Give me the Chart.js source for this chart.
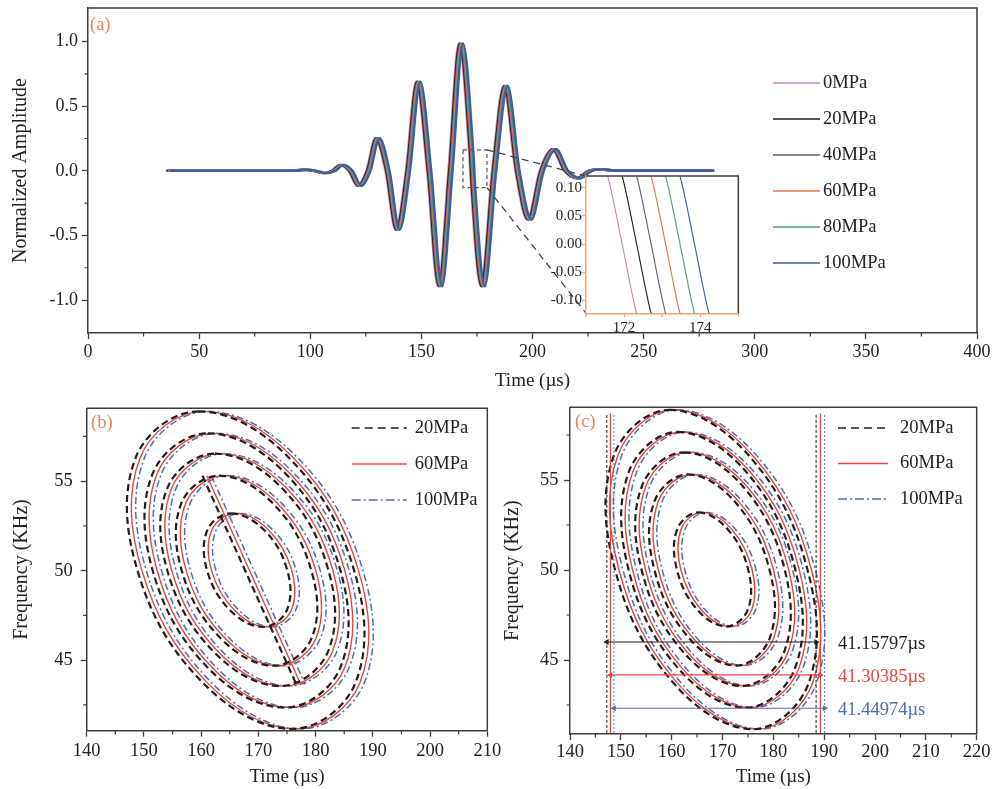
<!DOCTYPE html>
<html>
<head>
<meta charset="utf-8">
<title>Waveforms and time-frequency contours</title>
<script src="https://cdn.jsdelivr.net/npm/chart.js@4.4.1/dist/chart.umd.min.js"></script>
<style>
  html, body { margin: 0; padding: 0; background: #fff; }
  #wrap { position: relative; width: 994px; height: 789px; overflow: hidden; background: #fff; }
  canvas { position: absolute; }
</style>
</head>
<body>
<div id="wrap">
  <canvas id="waveChart" width="994" height="395" style="left:0px;top:0px"></canvas>
  <canvas id="zoomChart" width="215" height="165" style="left:530px;top:172px"></canvas>
  <canvas id="contourB" width="520" height="394" style="left:0px;top:395px"></canvas>
  <canvas id="contourC" width="497" height="394" style="left:497px;top:395px"></canvas>
</div>
<script>
// (a) normalized waveforms at each confining pressure
const pressureA = ['0MPa', '20MPa', '40MPa', '60MPa', '80MPa', '100MPa'];
const waveShift = [0, 0.38, 0.76, 1.14, 1.52, 1.90];   // arrival delay vs 0MPa (µs)
const waveTime = [35, 90, 96.6, 101.1, 105.6, 109.4, 113.15, 117.15, 121.15, 125.2,
  129.25, 133.8, 138.35, 143.0, 147.65, 152.55, 157.45, 162.15, 166.85, 171.57,
  171.95, 172.33, 176.65, 181.8, 186.95, 192.3, 197.65, 203.2, 208.75, 214.2,
  219.65, 224.9, 230.15, 236, 280];
const waveAmp = [0, 0, 0.008, 0, -0.018, 0, 0.046, 0, -0.116, 0,
  0.252, 0, -0.456, 0, 0.69, 0, -0.893, 0, 0.986, 0.121,
  0, -0.123, -0.893, 0, 0.656, 0, -0.378, 0, 0.167, 0,
  -0.057, 0, 0.012, 0, 0];
const ticksAx = [0, 50, 100, 150, 200, 250, 300, 350, 400];
const minorAx = [25, 75, 125, 175, 225, 275, 325, 375];
const ticksAy = [-1, -0.5, 0, 0.5, 1];
const minorAy = [-0.75, -0.25, 0.25, 0.75];
const zoomBoxTime = [168.7, 179.5];
const zoomBoxAmp = [-0.13, 0.162];
const ticksZx = [172, 174];
const minorZx = [171, 173, 175];
const ticksZy = [-0.1, -0.05, 0, 0.05, 0.1];

// (b), (c) contour rings of the 60MPa spectrogram, 8 points per ring
const pressureB = ['20MPa', '60MPa', '100MPa'];
const contourShift = [-0.77, 0, 0.77];
const contourTime = [
  [160.30, 176.10, 187.48, 187.77, 176.80, 161.00, 149.62, 149.33],
  [161.92, 175.50, 185.10, 185.09, 175.48, 161.90, 152.30, 152.31],
  [163.17, 174.80, 182.98, 182.91, 174.63, 163.00, 154.82, 154.89],
  [163.90, 173.31, 180.03, 180.10, 173.50, 164.09, 157.38, 157.30],
  [166.00, 171.78, 175.81, 175.74, 171.60, 165.82, 161.79, 161.86]
];
const contourFreq = [
  [58.90, 56.31, 50.03, 43.76, 41.16, 43.76, 50.03, 56.31],
  [57.67, 55.43, 50.01, 44.59, 42.35, 44.59, 50.01, 55.43],
  [56.54, 54.64, 50.05, 45.46, 43.56, 45.46, 50.05, 54.64],
  [55.31, 53.76, 50.00, 46.25, 44.69, 46.25, 50.00, 53.76],
  [53.20, 52.27, 50.03, 47.79, 46.86, 47.79, 50.03, 52.27]
];
const ridgeTime = [161.0, 177.4];
const ridgeFreq = [55.3, 43.65];
const edgeLeft = [147.25, 147.95, 148.65];
const spanWidth = [41.15797, 41.30385, 41.44974];
const spanFreq = [46.0, 44.17, 42.32];
const edgeFreq = [40.95, 58.7];
const ticksBx = [140, 150, 160, 170, 180, 190, 200, 210];
const minorBx = [145, 155, 165, 175, 185, 195, 205];
const ticksCx = [140, 150, 160, 170, 180, 190, 200, 210, 220];
const minorCx = [145, 155, 165, 175, 185, 195, 205, 215];
const ticksF = [45, 50, 55];
const minorF = [42.5, 47.5, 52.5, 57.5];

// styles
const SERIF = '"Liberation Serif", "Times New Roman", serif';
const colorA = ['#c587b6', '#1e1e1e', '#59627f', '#ec6f48', '#4b9c84', '#3c5ca6'];
const colorB = ['#1e1e1e', '#e8463c', '#4a6db2'];
const lineB = [
  { width: 2.2, dash: [7, 4] },
  { width: 1.4, dash: [] },
  { width: 1.5, dash: [7, 3, 2, 3] }
];
const edgeStyle = [
  { width: 1, dash: [3, 2] },
  { width: 1.2, dash: [] },
  { width: 1, dash: [2, 2] }
];
const FRAME = '#3d3d3d';
const TAG = '#e5835e';

Chart.defaults.font.family = SERIF;
Chart.defaults.color = '#222';

// join the last point of a closed contour back to its first one
Chart.register({
  id: 'closeLoop',
  afterDatasetUpdate(chart, args) {
    if (chart.data.datasets[args.index].closed && args.meta.dataset) {
      args.meta.dataset._loop = true;
      args.meta.dataset._fullLoop = true;
    }
  }
});

function axis(o) {
  return {
    type: 'linear', position: o.pos, min: o.min, max: o.max,
    afterBuildTicks: s => { s.ticks = o.ticks.map(v => ({ value: v })); },
    afterFit: s => {
      if (o.pos === 'left') s.width = o.size; else s.height = o.size;
      s.paddingLeft = s.paddingRight = s.paddingTop = s.paddingBottom = 0;
    },
    grid: { drawOnChartArea: false, drawTicks: true, tickLength: o.tickLen || 6, tickColor: o.line || FRAME, tickWidth: 1.3 },
    border: { display: true, color: o.line || FRAME, width: 1.5 },
    ticks: { autoSkip: false, maxRotation: 0, padding: o.pad, color: '#222',
             font: { size: o.fs || 18 }, callback: o.fmt || (v => String(v)) },
    title: o.title
      ? { display: true, text: o.title, color: '#222', font: { size: o.tfs }, padding: o.tpad }
      : { display: false }
  };
}

function drawFrame(chart, minorX, minorY, color) {
  const { ctx, chartArea: a, scales: { x, y } } = chart;
  ctx.save();
  ctx.strokeStyle = FRAME;
  ctx.lineWidth = 1.5;
  ctx.beginPath();
  ctx.moveTo(a.left, a.top); ctx.lineTo(a.right, a.top); ctx.lineTo(a.right, a.bottom);
  ctx.stroke();
  ctx.strokeStyle = color || FRAME;
  ctx.lineWidth = 1.2;
  ctx.beginPath();
  minorX.forEach(v => { const px = x.getPixelForValue(v); ctx.moveTo(px, a.bottom); ctx.lineTo(px, a.bottom + 3.5); });
  minorY.forEach(v => { const py = y.getPixelForValue(v); ctx.moveTo(a.left, py); ctx.lineTo(a.left - 3.5, py); });
  ctx.stroke();
  ctx.restore();
}

function drawKey(ctx, rows, x, y0, step, len, gap) {
  ctx.save();
  rows.forEach((r, i) => {
    const y = y0 + i * step;
    ctx.strokeStyle = r.color; ctx.lineWidth = r.width; ctx.setLineDash(r.dash || []);
    ctx.beginPath(); ctx.moveTo(x, y); ctx.lineTo(x + len, y); ctx.stroke();
    ctx.setLineDash([]);
    ctx.fillStyle = '#222'; ctx.font = '18.5px ' + SERIF; ctx.textBaseline = 'middle';
    ctx.fillText(r.label, x + len + gap, y);
  });
  ctx.restore();
}

function drawTag(ctx, text, x, y) {
  ctx.save();
  ctx.fillStyle = TAG; ctx.font = '18.5px ' + SERIF; ctx.textBaseline = 'middle';
  ctx.fillText(text, x, y);
  ctx.restore();
}

const waveTrace = i => waveTime.map((t, j) => ({ x: t + waveShift[i], y: waveAmp[j] }));

// inset corners on the page, used for the zoom guide lines
const INSET = { left: 586, top: 176, bottom: 313.3 };

new Chart(document.getElementById('waveChart'), {
  type: 'line',
  data: {
    datasets: pressureA.map((p, i) => ({
      label: p, data: waveTrace(i), borderColor: colorA[i], borderWidth: 2.4,
      pointRadius: 0, cubicInterpolationMode: 'monotone', order: pressureA.length - i
    }))
  },
  options: {
    responsive: false, animation: false, events: [],
    layout: { padding: { left: 0, right: 17, top: 8, bottom: 0 } },
    plugins: { legend: { display: false }, tooltip: { enabled: false } },
    scales: {
      x: axis({ pos: 'bottom', min: 0, max: 400, ticks: ticksAx, size: 62, pad: 2.3,
                title: 'Time (µs)', tfs: 19, tpad: { top: 0, bottom: 2.6 } }),
      y: axis({ pos: 'left', min: -1.255, max: 1.26, ticks: ticksAy, size: 88, pad: 4,
                fmt: v => v.toFixed(1), title: 'Normalized Amplitude', tfs: 20, tpad: { top: 9, bottom: 0 } })
    }
  },
  plugins: [{
    id: 'waveDecor',
    afterDraw(chart) {
      const { ctx, scales: { x, y } } = chart;
      drawFrame(chart, minorAx, minorAy);
      drawTag(ctx, '(a)', 90, 25);
      drawKey(ctx, pressureA.map((p, i) => ({ label: p, color: colorA[i], width: 1.5 })), 773, 83, 36, 47, 3);

      // dashed box around the zero crossing and guides to the inset
      const x0 = x.getPixelForValue(zoomBoxTime[0]), x1 = x.getPixelForValue(zoomBoxTime[1]);
      const y0 = y.getPixelForValue(zoomBoxAmp[1]), y1 = y.getPixelForValue(zoomBoxAmp[0]);
      ctx.save();
      ctx.strokeStyle = '#555'; ctx.lineWidth = 1.2; ctx.setLineDash([4, 3]);
      ctx.strokeRect(x0, y0, x1 - x0, y1 - y0);
      ctx.strokeStyle = '#444'; ctx.lineWidth = 1.3; ctx.setLineDash([7, 5]);
      ctx.beginPath();
      ctx.moveTo(x1, y0); ctx.lineTo(INSET.left, INSET.top);
      ctx.moveTo(x1, y1); ctx.lineTo(INSET.left, INSET.bottom);
      ctx.stroke();
      ctx.restore();
    }
  }]
});

new Chart(document.getElementById('zoomChart'), {
  type: 'line',
  data: {
    datasets: pressureA.map((p, i) => ({
      label: p, data: waveTrace(i), borderColor: colorA[i], borderWidth: 1.1,
      pointRadius: 0, cubicInterpolationMode: 'monotone'
    }))
  },
  options: {
    responsive: false, animation: false, events: [],
    layout: { padding: { left: 0, right: 6.7, top: 4, bottom: 0 } },
    plugins: { legend: { display: false }, tooltip: { enabled: false } },
    scales: {
      x: axis({ pos: 'bottom', min: 171, max: 175, ticks: ticksZx, size: 23.7, pad: 1.8, fs: 15, tickLen: 4, line: '#f0a472' }),
      y: axis({ pos: 'left', min: -0.123, max: 0.121, ticks: ticksZy, size: 56, pad: 0, fs: 15, tickLen: 4,
                line: '#f0a472', fmt: v => v.toFixed(2) })
    }
  },
  plugins: [{
    id: 'insetDecor',
    beforeDraw(chart) {
      const { ctx, chartArea: a } = chart;
      ctx.save(); ctx.fillStyle = '#fff';
      ctx.fillRect(a.left, a.top, a.right - a.left, a.bottom - a.top);
      ctx.restore();
    },
    afterDraw(chart) { drawFrame(chart, minorZx, [], '#f0a472'); }
  }]
});

function contourSets(withRidge) {
  const sets = [];
  pressureB.forEach((p, s) => {
    if (withRidge) {
      sets.push({
        label: p, data: ridgeTime.map((t, j) => ({ x: t + contourShift[s], y: ridgeFreq[j] })),
        borderColor: colorB[s], borderWidth: lineB[s].width, borderDash: lineB[s].dash, pointRadius: 0
      });
    }
    contourTime.forEach((ring, k) => {
      sets.push({
        label: p, closed: true,
        data: ring.map((t, j) => ({ x: t + contourShift[s], y: contourFreq[k][j] })),
        borderColor: colorB[s], borderWidth: lineB[s].width, borderDash: lineB[s].dash,
        pointRadius: 0, tension: 0.38, spanGaps: true, capBezierPoints: false
      });
    });
  });
  return sets;
}

function spanSets() {
  const sets = [];
  pressureB.forEach((p, s) => {
    const right = edgeLeft[s] + spanWidth[s];
    sets.push({
      label: p, data: [{ x: edgeLeft[s], y: spanFreq[s] }, { x: right, y: spanFreq[s] }],
      borderColor: colorB[s], borderWidth: 1.2, pointStyle: 'triangle', pointRadius: 3.5,
      pointRotation: [270, 90], pointBackgroundColor: colorB[s], pointBorderColor: colorB[s], pointBorderWidth: 0
    });
  });
  pressureB.forEach((p, s) => {
    const right = edgeLeft[s] + spanWidth[s];
    [edgeLeft[s], right].forEach(t => sets.push({
      label: p, data: edgeFreq.map(f => ({ x: t, y: f })),
      borderColor: colorB[s], borderWidth: edgeStyle[s].width, borderDash: edgeStyle[s].dash, pointRadius: 0
    }));
  });
  return sets;
}

const keyRows = pressureB.map((p, s) => ({ label: p, color: colorB[s], width: 1.6, dash: s === 0 ? [8, 5] : s === 2 ? [9, 3, 2, 3] : [] }));

new Chart(document.getElementById('contourB'), {
  type: 'line',
  data: { datasets: contourSets(true) },
  options: {
    responsive: false, animation: false, events: [],
    layout: { padding: { left: 0, right: 32.7, top: 13.3, bottom: 0 } },
    plugins: { legend: { display: false }, tooltip: { enabled: false } },
    scales: {
      x: axis({ pos: 'bottom', min: 140, max: 210, ticks: ticksBx, size: 58.3, pad: 3.5, fs: 18.5,
                title: 'Time (µs)', tfs: 19, tpad: { top: 0, bottom: 0.9 } }),
      y: axis({ pos: 'left', min: 41.06, max: 59.07, ticks: ticksF, size: 86.7, pad: 8, fs: 18.5,
                title: 'Frequency (KHz)', tfs: 20, tpad: { top: 9.7, bottom: 0 } })
    }
  },
  plugins: [{
    id: 'contourDecorB',
    afterDraw(chart) {
      drawFrame(chart, minorBx, minorF);
      drawTag(chart.ctx, '(b)', 91, 28);
      drawKey(chart.ctx, keyRows, 351.7, 33, 36, 55, 8);
    }
  }]
});

new Chart(document.getElementById('contourC'), {
  type: 'line',
  data: { datasets: spanSets().concat(contourSets(false)) },
  options: {
    responsive: false, animation: false, events: [],
    layout: { padding: { left: 0, right: 17.3, top: 12.3, bottom: 0 } },
    plugins: { legend: { display: false }, tooltip: { enabled: false } },
    scales: {
      x: axis({ pos: 'bottom', min: 140, max: 220, ticks: ticksCx, size: 55, pad: 1.5, fs: 18.5,
                title: 'Time (µs)', tfs: 19, tpad: { top: 0, bottom: 0.9 } }),
      y: axis({ pos: 'left', min: 40.89, max: 59.04, ticks: ticksF, size: 73, pad: 5.5, fs: 18.5,
                title: 'Frequency (KHz)', tfs: 20, tpad: { top: 4, bottom: 0 } })
    }
  },
  plugins: [{
    id: 'contourDecorC',
    afterDraw(chart) {
      const { ctx, scales: { y } } = chart;
      drawFrame(chart, minorCx, minorF);
      drawTag(ctx, '(c)', 78, 27);
      drawKey(ctx, keyRows, 341, 33, 35.5, 50, 12);
      ctx.save();
      ctx.font = '18.5px ' + SERIF; ctx.textBaseline = 'middle';
      spanWidth.forEach((w, s) => {
        ctx.fillStyle = colorB[s];
        ctx.fillText(w.toFixed(5) + 'µs', 341, y.getPixelForValue(spanFreq[s]) + 2);
      });
      ctx.restore();
    }
  }]
});
</script>
</body>
</html>
